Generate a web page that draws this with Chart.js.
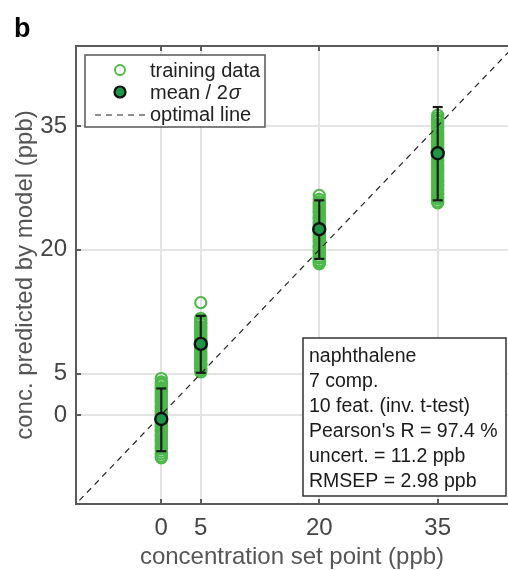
<!DOCTYPE html>
<html>
<head>
<meta charset="utf-8">
<script src="https://cdn.jsdelivr.net/npm/chart.js@4.4.1/dist/chart.umd.min.js"></script>
<style>
  html, body { margin: 0; padding: 0; background: #ffffff; }
  #wrap { width: 508px; height: 570px; position: relative; }
</style>
</head>
<body>
<div id="wrap"><canvas id="c" width="508" height="570"></canvas></div>
<script>
// ---- data ----
const setPoints = [0, 5, 20, 35];
const xTicks = [0, 5, 20, 35];
const yTicks = [0, 5, 20, 35];
const train0 = [4.4, 4.0, 3.8, 3.6, 3.3, 3.1, 2.9, 2.6, 2.4, 2.2, 1.9, 1.7, 1.5, 1.2, 1.0, 0.8, 0.5, 0.3, 0.1, -0.2, -0.4, -0.6, -0.9, -1.1, -1.3, -1.5, -1.8, -2.0, -2.3, -2.5, -2.7, -3.0, -3.2, -3.4, -3.7, -3.9, -4.1, -4.4, -4.7, -5.0, -5.2];
const train5 = [13.6, 11.7, 11.5, 11.2, 11.0, 10.7, 10.5, 10.3, 10.0, 9.8, 9.6, 9.3, 9.1, 8.9, 8.6, 8.4, 8.2, 8.0, 7.7, 7.5, 7.3, 7.0, 6.8, 6.6, 6.3, 6.1, 5.9, 5.6, 5.4, 5.2];
const train20 = [26.6, 26.1, 25.8, 25.6, 25.3, 25.1, 24.8, 24.6, 24.4, 24.1, 23.9, 23.7, 23.4, 23.2, 23.0, 22.7, 22.5, 22.3, 22.0, 21.8, 21.6, 21.3, 21.1, 20.9, 20.6, 20.4, 20.2, 19.9, 19.7, 19.5, 19.2, 19.0, 18.7, 18.5, 18.3];
const train35 = [36.3, 36.0, 35.7, 35.5, 35.2, 34.9, 34.7, 34.4, 34.2, 33.9, 33.7, 33.4, 33.2, 32.9, 32.7, 32.4, 32.2, 31.9, 31.7, 31.4, 31.2, 30.9, 30.7, 30.4, 30.2, 29.9, 29.7, 29.4, 29.2, 28.9, 28.7, 28.4, 28.2, 27.9, 27.7, 27.4, 27.2, 26.9, 26.7, 26.4, 26.2, 25.9, 25.7];
const meanVals = [-0.5, 8.6, 22.5, 31.7];
const errLow = [-4.4, 5.1, 18.9, 26.0];
const errHigh = [3.2, 12.0, 26.0, 37.3];
const optimalLine = [-20, 60];
const infoLines = ["naphthalene", "7 comp.", "10 feat. (inv. t-test)", "Pearson's R = 97.4 %", "uncert. = 11.2 ppb", "RMSEP = 2.98 ppb"];
const legendLabels = ["training data", "mean / 2", "optimal line"];

// ---- styles ----
const FONT = "'Liberation Sans', Arial, Helvetica, sans-serif";
const GREEN = '#4db84a';
const DARKGREEN = '#1f9548';
const AXIS = '#5a5a5a';

const trainSets = [train0, train5, train20, train35];
const trainData = [];
trainSets.forEach((arr, i) => arr.forEach(v => trainData.push({ x: setPoints[i], y: v })));

const datasets = [];
datasets.push({
  type: 'scatter', label: 'mean', order: 0,
  data: setPoints.map((x, i) => ({ x, y: meanVals[i] })),
  pointRadius: 6, pointHoverRadius: 6,
  backgroundColor: DARKGREEN, borderColor: '#111111', pointBorderWidth: 2.4
});
setPoints.forEach((x, i) => {
  datasets.push({
    type: 'line', label: 'err' + i, order: 1,
    data: [{ x, y: errLow[i] }, { x, y: errHigh[i] }],
    showLine: true, borderColor: '#1a1a1a', borderWidth: 2.2,
    pointStyle: 'line', pointRadius: 5, pointHoverRadius: 5,
    pointBorderColor: '#1a1a1a', pointBorderWidth: 2.2
  });
});
datasets.push({
  type: 'line', label: 'optimal', order: 2,
  data: optimalLine.map(v => ({ x: v, y: v })),
  borderColor: '#222222', borderWidth: 1.2, borderDash: [6, 5],
  pointRadius: 0, fill: false
});
datasets.push({
  type: 'scatter', label: 'training', order: 3,
  data: trainData,
  pointRadius: 5.6, pointHoverRadius: 5.6,
  backgroundColor: 'rgba(0,0,0,0)', borderColor: GREEN, pointBorderWidth: 2.1
});

const decor = {
  id: 'decor',
  afterDraw(chart) {
    const ctx = chart.ctx;
    const a = chart.chartArea;
    const xs = chart.scales.x, ys = chart.scales.y;
    ctx.save();
    // top border
    ctx.strokeStyle = AXIS; ctx.lineWidth = 2;
    ctx.beginPath(); ctx.moveTo(a.left - 1, a.top); ctx.lineTo(a.right, a.top); ctx.stroke();
    // inward ticks
    ctx.lineWidth = 2;
    xTicks.forEach(v => {
      const px = Math.round(xs.getPixelForValue(v));
      ctx.beginPath(); ctx.moveTo(px, a.bottom); ctx.lineTo(px, a.bottom - 5); ctx.stroke();
      ctx.beginPath(); ctx.moveTo(px, a.top); ctx.lineTo(px, a.top + 5); ctx.stroke();
    });
    yTicks.forEach(v => {
      const py = Math.round(ys.getPixelForValue(v));
      ctx.beginPath(); ctx.moveTo(a.left, py); ctx.lineTo(a.left + 5, py); ctx.stroke();
    });

    // legend box
    const lx = 85, ly = 55, lw = 180, lh = 72;
    ctx.fillStyle = '#ffffff'; ctx.fillRect(lx, ly, lw, lh);
    ctx.strokeStyle = '#555555'; ctx.lineWidth = 1.5; ctx.strokeRect(lx, ly, lw, lh);
    ctx.font = '20px ' + FONT; ctx.fillStyle = '#222222'; ctx.textBaseline = 'middle'; ctx.textAlign = 'left';
    // row 1
    ctx.beginPath(); ctx.arc(120, 70, 5, 0, Math.PI * 2); ctx.strokeStyle = GREEN; ctx.lineWidth = 1.9; ctx.stroke();
    ctx.fillText(legendLabels[0], 150, 71);
    // row 2
    ctx.beginPath(); ctx.arc(120, 92, 5.5, 0, Math.PI * 2); ctx.fillStyle = DARKGREEN; ctx.fill();
    ctx.strokeStyle = '#111111'; ctx.lineWidth = 2.2; ctx.stroke();
    ctx.fillStyle = '#222222';
    ctx.fillText(legendLabels[1], 150, 93);
    const w2 = ctx.measureText(legendLabels[1]).width;
    ctx.font = 'italic 20px ' + FONT;
    ctx.fillText('σ', 150 + w2 + 1, 93);
    ctx.font = '20px ' + FONT;
    // row 3
    ctx.strokeStyle = '#222222'; ctx.lineWidth = 1.2; ctx.setLineDash([6, 5]);
    ctx.beginPath(); ctx.moveTo(95, 115); ctx.lineTo(146, 115); ctx.stroke();
    ctx.setLineDash([]);
    ctx.fillText(legendLabels[2], 150, 115);

    // info box
    const bx = 303, by = 338, bw = 203, bh = 158;
    ctx.fillStyle = '#ffffff'; ctx.fillRect(bx, by, bw, bh);
    ctx.strokeStyle = '#333333'; ctx.lineWidth = 1.5; ctx.strokeRect(bx, by, bw, bh);
    ctx.fillStyle = '#1a1a1a'; ctx.font = '19.5px ' + FONT;
    infoLines.forEach((t, i) => ctx.fillText(t, 309, 357 + i * 25));

    // panel letter
    ctx.font = 'bold 27px ' + FONT; ctx.fillStyle = '#000000'; ctx.textBaseline = 'alphabetic';
    ctx.fillText('b', 14, 37);
    ctx.restore();
  }
};

new Chart(document.getElementById('c'), {
  data: { datasets },
  options: {
    responsive: false, animation: false, devicePixelRatio: 1,
    layout: { autoPadding: false, padding: { top: 46, right: 0, left: 0, bottom: 0 } },
    plugins: { legend: { display: false }, tooltip: { enabled: false } },
    scales: {
      x: {
        type: 'linear', min: -10.8, max: 43.9,
        afterBuildTicks: s => { s.ticks = xTicks.map(v => ({ value: v })); },
        afterFit: s => { s.height = 66; s.paddingLeft = 0; s.paddingRight = 0; },
        grid: { color: '#e4e4e4', lineWidth: 2, drawTicks: false },
        border: { color: AXIS, width: 2 },
        ticks: { font: { family: FONT, size: 24 }, color: '#444444', padding: 10, maxRotation: 0 },
        title: { display: true, text: 'concentration set point (ppb)', color: '#555555',
                 font: { family: FONT, size: 24, lineHeight: 1 }, padding: { top: 0, bottom: 1 } }
      },
      y: {
        type: 'linear', min: -10.8, max: 44.7,
        afterBuildTicks: s => { s.ticks = yTicks.map(v => ({ value: v })); },
        afterFit: s => { s.width = 76; s.paddingTop = 0; s.paddingBottom = 0; },
        grid: { color: '#e4e4e4', lineWidth: 2, drawTicks: false },
        border: { color: AXIS, width: 2 },
        ticks: { font: { family: FONT, size: 24 }, color: '#444444', padding: 9 },
        title: { display: true, text: 'conc. predicted by model (ppb)', color: '#555555',
                 font: { family: FONT, size: 24, lineHeight: 1 }, padding: { top: 13, bottom: 0 } }
      }
    }
  },
  plugins: [decor]
});
</script>
</body>
</html>
